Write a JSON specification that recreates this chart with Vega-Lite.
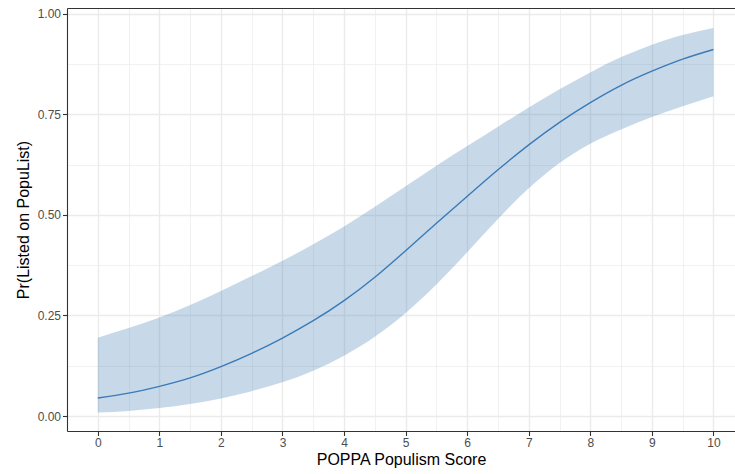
{
  "$schema": "https://vega.github.io/schema/vega-lite/v6.json",
  "width": 668,
  "height": 423,
  "autosize": {"type": "none"},
  "padding": {"left": 67, "top": 8, "right": 0, "bottom": 43},
  "background": "white",
  "config": {
    "view": {"stroke": null},
    "font": "Liberation Sans",
    "axis": {
      "gridColor": "#ebebeb",
      "domainColor": "#333333",
      "domainWidth": 1.1,
      "tickColor": "#333333",
      "tickWidth": 1.1,
      "tickSize": 4.5,
      "labelColor": "#4d4d4d",
      "labelFontSize": 12,
      "labelFont": "Liberation Sans",
      "titleFont": "Liberation Sans",
      "titleFontSize": 16,
      "titleFontWeight": "normal",
      "titleColor": "#000000"
    }
  },
  "data": {
    "values": [
      {"score": 0,   "fit": 0.045, "lo": 0.009, "hi": 0.195},
      {"score": 0.5, "fit": 0.057, "lo": 0.013, "hi": 0.219},
      {"score": 1,   "fit": 0.074, "lo": 0.020, "hi": 0.245},
      {"score": 1.5, "fit": 0.095, "lo": 0.030, "hi": 0.276},
      {"score": 2,   "fit": 0.123, "lo": 0.044, "hi": 0.311},
      {"score": 2.5, "fit": 0.156, "lo": 0.062, "hi": 0.348},
      {"score": 3,   "fit": 0.194, "lo": 0.084, "hi": 0.386},
      {"score": 3.5, "fit": 0.237, "lo": 0.113, "hi": 0.427},
      {"score": 4,   "fit": 0.287, "lo": 0.150, "hi": 0.471},
      {"score": 4.5, "fit": 0.345, "lo": 0.197, "hi": 0.520},
      {"score": 5,   "fit": 0.411, "lo": 0.256, "hi": 0.571},
      {"score": 5.5, "fit": 0.479, "lo": 0.327, "hi": 0.622},
      {"score": 6,   "fit": 0.546, "lo": 0.407, "hi": 0.671},
      {"score": 6.5, "fit": 0.612, "lo": 0.490, "hi": 0.719},
      {"score": 7,   "fit": 0.674, "lo": 0.566, "hi": 0.767},
      {"score": 7.5, "fit": 0.730, "lo": 0.629, "hi": 0.812},
      {"score": 8,   "fit": 0.779, "lo": 0.677, "hi": 0.854},
      {"score": 8.5, "fit": 0.822, "lo": 0.712, "hi": 0.892},
      {"score": 9,   "fit": 0.857, "lo": 0.743, "hi": 0.923},
      {"score": 9.5, "fit": 0.887, "lo": 0.770, "hi": 0.947},
      {"score": 10,  "fit": 0.911, "lo": 0.795, "hi": 0.964}
    ]
  },
  "layer": [
    {
      "mark": {"type": "area", "color": "steelblue", "opacity": 0.3, "interpolate": "natural"},
      "encoding": {
        "x": {
          "field": "score",
          "type": "quantitative",
          "scale": {"domain": [-0.5, 10.35], "nice": false, "zero": false},
          "axis": {
            "orient": "bottom",
            "title": "POPPA Populism Score",
            "values": [0, 1, 2, 3, 4, 5, 6, 7, 8, 9, 10],
            "format": "d",
            "grid": true,
            "gridWidth": 1.4,
            "labelPadding": 2,
            "titlePadding": 3
          }
        },
        "y": {
          "field": "lo",
          "type": "quantitative",
          "scale": {"domain": [-0.037, 1.014], "nice": false, "zero": false},
          "axis": {
            "orient": "left",
            "title": "Pr(Listed on PopuList)",
            "values": [0, 0.25, 0.5, 0.75, 1],
            "format": ".2f",
            "grid": true,
            "gridWidth": 1.4,
            "labelPadding": 2,
            "titlePadding": 6
          }
        },
        "y2": {"field": "hi"}
      }
    },
    {
      "mark": {"type": "line", "color": "#3a7ab8", "strokeWidth": 1.4, "interpolate": "natural"},
      "encoding": {
        "x": {
          "field": "score",
          "type": "quantitative",
          "axis": {
            "orient": "top",
            "title": null,
            "values": [0.5, 1.5, 2.5, 3.5, 4.5, 5.5, 6.5, 7.5, 8.5, 9.5],
            "labels": false,
            "ticks": false,
            "grid": true,
            "gridWidth": 0.7,
            "domain": true
          }
        },
        "y": {
          "field": "fit",
          "type": "quantitative",
          "axis": {
            "orient": "right",
            "title": null,
            "values": [0.125, 0.375, 0.625, 0.875],
            "labels": false,
            "ticks": false,
            "grid": true,
            "gridWidth": 0.7,
            "domain": false
          }
        }
      }
    }
  ]
}
